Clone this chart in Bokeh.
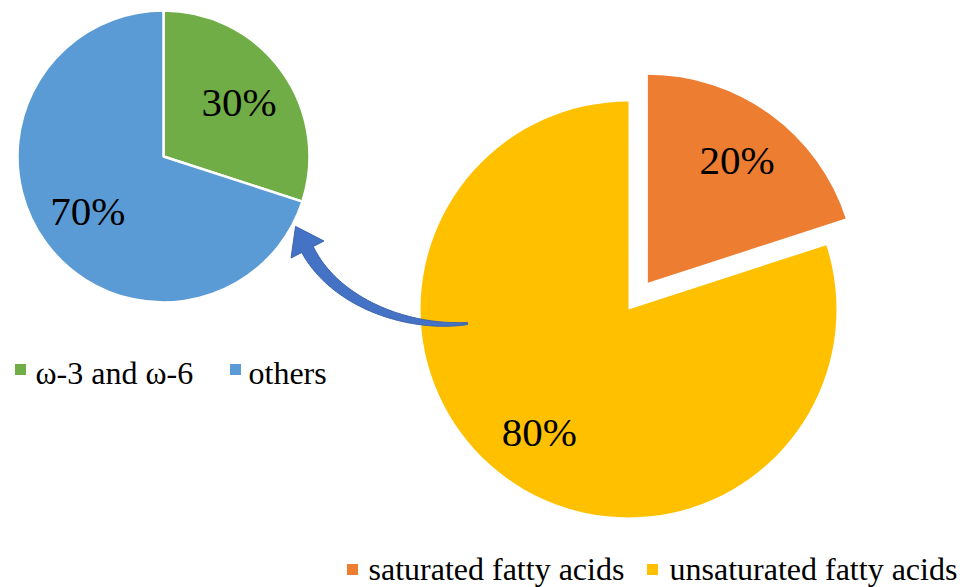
import numpy as np
from bokeh.plotting import figure
from bokeh.models import Range1d
from bokeh.core.properties import value
from bokeh.embed import file_html
from bokeh.resources import INLINE

# ---------------- data ----------------
small_labels = ["ω-3 and ω-6", "others"]
small_values = [30, 70]
small_colors = ["#70AD47", "#5B9BD5"]

big_labels = ["saturated fatty acids", "unsaturated fatty acids"]
big_values = [20, 80]
big_colors = ["#ED7D31", "#FFC000"]
big_explode = [33, 0]

# ---------------- layout ----------------
W, H = 971, 587
IMG_H = 587


def Y(y_img):
    return IMG_H - y_img


FONT = value("Liberation Serif")

p = figure(width=W, height=H, output_backend="svg", toolbar_location=None,
           x_range=Range1d(0, W), y_range=Range1d(0, H),
           x_axis_type=None, y_axis_type=None, min_border=0)
p.grid.visible = False
p.outline_line_color = None
p.background_fill_color = "white"
p.border_fill_color = "white"


def pie(cx, cy, r, values, colors, explode, label_frac, line_w):
    vals = np.array(values, dtype=float)
    frac = vals / vals.sum()
    cum = np.concatenate([[0.0], np.cumsum(frac)])
    a0 = np.pi / 2 - 2 * np.pi * cum[:-1]
    a1 = np.pi / 2 - 2 * np.pi * cum[1:]
    mid = (a0 + a1) / 2
    ex = np.array(explode, dtype=float)
    xs = cx + ex * np.cos(mid)
    ys = cy + ex * np.sin(mid)
    p.wedge(x=xs, y=ys, radius=r, start_angle=a1, end_angle=a0,
            direction="anticlock", fill_color=colors,
            line_color="white", line_width=line_w)
    lx = xs + label_frac * r * np.cos(mid)
    ly = ys + label_frac * r * np.sin(mid)
    p.text(x=lx, y=ly, text=[f"{int(v)}%" for v in values],
           text_font=FONT, text_font_size="41px", text_color="black",
           text_align="center", text_baseline="middle")


# small pie (breakdown of unsaturated fatty acids)
pie(163, Y(156), 146, small_values, small_colors, [0, 0], 0.64, 2.5)
# big pie
pie(628, Y(309), 208, big_values, big_colors, big_explode, 0.73, 0)

# ---------------- curved arrow ----------------
P0 = np.array([467.0, 323.0])
P1 = np.array([407.0, 329.0])
P2 = np.array([334.6, 302.4])
P3 = np.array([307.0, 249.0])
t = np.linspace(0, 1, 80)[:, None]
C = (1 - t) ** 3 * P0 + 3 * (1 - t) ** 2 * t * P1 + 3 * (1 - t) * t ** 2 * P2 + t ** 3 * P3
D = 3 * (1 - t) ** 2 * (P1 - P0) + 6 * (1 - t) * t * (P2 - P1) + 3 * t ** 2 * (P3 - P2)
D = D / np.linalg.norm(D, axis=1)[:, None]
N = np.column_stack([-D[:, 1], D[:, 0]])
hw = (1.0 + 5.5 * t[:, 0] ** 0.8)[:, None]
upper = C + N * hw
lower = C - N * hw
dEnd = D[-1]
nEnd = N[-1]
tip = P3 + dEnd * 26
c1 = P3 + nEnd * 18.5
c2 = P3 - nEnd * 18.5
poly = np.vstack([upper, c1, tip, c2, lower[::-1]])
p.patch(x=poly[:, 0], y=IMG_H - poly[:, 1], fill_color="#4472C4",
        line_color="#3A62AE", line_width=1)

# ---------------- legends ----------------
LEG_FS = "32px"
# top-left legend
p.scatter(x=[20, 235], y=[Y(369), Y(369)], marker="square", size=11,
          fill_color=small_colors, line_color=None)
p.text(x=[35, 248], y=[Y(372), Y(372)], text=small_labels, text_font=FONT,
       text_font_size=LEG_FS, text_color="black", text_align="left",
       text_baseline="middle")
# bottom legend
p.scatter(x=[352, 652], y=[Y(569), Y(569)], marker="square", size=11,
          fill_color=big_colors, line_color=None)
p.text(x=[368, 669], y=[Y(568), Y(568)], text=big_labels, text_font=FONT,
       text_font_size=LEG_FS, text_color="black", text_align="left",
       text_baseline="middle")

open("out.html", "w").write(file_html(p, INLINE))
